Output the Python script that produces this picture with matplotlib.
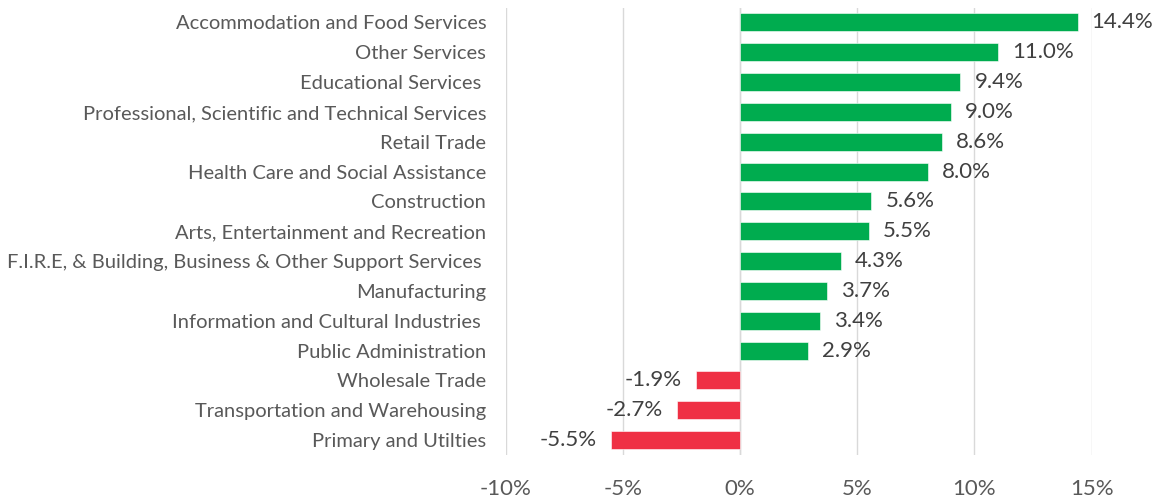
import matplotlib
matplotlib.use("Agg")
import matplotlib.pyplot as plt

industries = [
    "Accommodation and Food Services",
    "Other Services",
    "Educational Services ",
    "Professional, Scientific and Technical Services",
    "Retail Trade",
    "Health Care and Social Assistance",
    "Construction",
    "Arts, Entertainment and Recreation",
    "F.I.R.E, & Building, Business & Other Support Services ",
    "Manufacturing",
    "Information and Cultural Industries ",
    "Public Administration",
    "Wholesale Trade",
    "Transportation and Warehousing",
    "Primary and Utilties",
]
change_pct = [14.4, 11.0, 9.4, 9.0, 8.6, 8.0, 5.6, 5.5, 4.3, 3.7, 3.4, 2.9, -1.9, -2.7, -5.5]
x_ticks = [-10, -5, 0, 5, 10, 15]

GREEN = "#00ac4f"
RED = "#ef3044"

plt.rcParams["font.family"] = ["Lato", "DejaVu Sans"]

fig = plt.figure(figsize=(11.6, 5), dpi=100)
ax = fig.add_axes([0.436, 0.09, 0.505, 0.895])

ypos = list(range(len(industries)))
colors = [GREEN if v >= 0 else RED for v in change_pct]
ax.barh(ypos, change_pct, height=0.6, color=colors, edgecolor="white",
        linewidth=0.4, zorder=3)

# value labels sit just past the end of each bar
for y, v in zip(ypos, change_pct):
    if v >= 0:
        ax.text(v + 0.6, y, f"{v:.1f}%", ha="left", va="center",
                fontsize=16, color="#404040", zorder=4)
    else:
        ax.text(v - 0.6, y, f"{v:.1f}%", ha="right", va="center",
                fontsize=16, color="#404040", zorder=4)

ax.set_xlim(-10, 15)
ax.set_ylim(len(industries) - 0.5, -0.5)
ax.set_xticks(x_ticks)
ax.set_xticklabels([f"{t}%" for t in x_ticks], fontsize=16, color="#595959")
ax.set_yticks(ypos)
ax.set_yticklabels(industries, fontsize=14.5, color="#595959")
ax.tick_params(axis="both", length=0)
ax.tick_params(axis="y", pad=14)
ax.tick_params(axis="x", pad=17)

ax.grid(axis="x", color="#d9d9d9", linewidth=1, zorder=0)
ax.axvline(0, color="#d9d9d9", linewidth=1, zorder=1)
for s in ax.spines.values():
    s.set_visible(False)

fig.savefig("out.png", dpi=100)
